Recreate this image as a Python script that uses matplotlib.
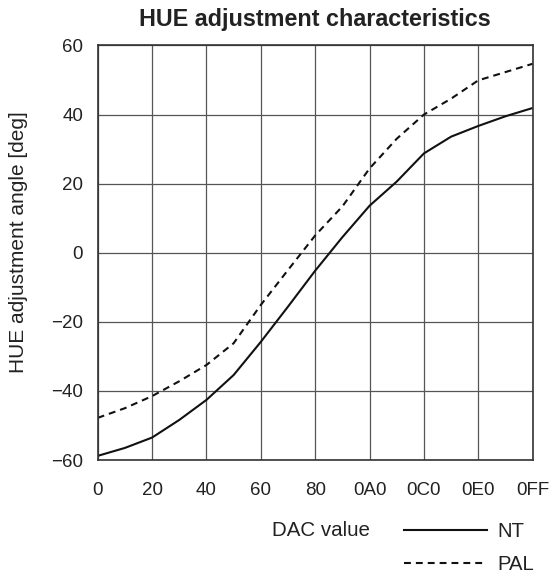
import matplotlib
matplotlib.use("Agg")
import matplotlib.pyplot as plt
from matplotlib.lines import Line2D

plt.rcParams['font.family'] = ['Liberation Sans', 'DejaVu Sans']

# DAC positions (0x00 .. 0xFF, last tick drawn at 0x100 grid position)
dac = [0, 16, 32, 48, 64, 80, 96, 112, 128, 144, 160, 176, 192, 208, 224, 240, 256]
nt = [-58.8, -56.5, -53.5, -48.4, -42.6, -35.4, -25.8, -15.6, -5.2, 4.5, 13.6, 20.6, 28.75, 33.6, 36.7, 39.5, 41.9]
pal = [-47.8, -45.0, -41.5, -37.2, -32.5, -26.2, -15.1, -5.0, 5.0, 13.4, 24.4, 33.0, 40.0, 44.6, 49.9, 52.3, 54.7]

xticks = [0, 32, 64, 96, 128, 160, 192, 224, 256]
xlabels = ["0", "20", "40", "60", "80", "0A0", "0C0", "0E0", "0FF"]
yticks = [-60, -40, -20, 0, 20, 40, 60]
ylabels = ["\u221260", "\u221240", "\u221220", "0", "20", "40", "60"]

txt = "#222222"
fig = plt.figure(figsize=(5.52, 5.79), dpi=100)
ax = fig.add_axes([0.177, 0.2055, 0.788, 0.716])

ax.plot(dac, nt, color="#111111", lw=1.5, solid_capstyle="butt", solid_joinstyle="round")
ax.plot(dac, pal, color="#111111", lw=1.5, linestyle=(0, (3.3, 2.4)))

ax.set_xlim(0, 256)
ax.set_ylim(-60, 60)
ax.set_xticks(xticks)
ax.set_xticklabels(xlabels)
ax.set_yticks(yticks)
ax.set_yticklabels(ylabels)
ax.tick_params(axis="both", length=0, labelsize=13.5, colors=txt)
ax.tick_params(axis="x", pad=16)
ax.tick_params(axis="y", pad=10.5)
ax.grid(True, color="#555555", lw=0.9)
for s in ax.spines.values():
    s.set_color("#333333")
    s.set_linewidth(1.2)

ax.set_title("HUE adjustment characteristics", fontsize=16.8, fontweight="bold", color=txt, pad=14)
fig.text(18.5 / 552, 1 - 242 / 579, "HUE adjustment angle [deg]", fontsize=15, color=txt,
         rotation=90, ha="center", va="center")

fig.text(321 / 552, 1 - 531 / 579, "DAC value", fontsize=14.8, color=txt, ha="center", va="center")

handles = [Line2D([], [], color="#111111", lw=1.5),
           Line2D([], [], color="#111111", lw=1.5, linestyle=(0, (3.3, 2.4)))]
fig.legend(handles, ["NT", "PAL"], loc="upper left", bbox_to_anchor=(404 / 552, 1 - 522 / 579),
           frameon=False, fontsize=14.6, handlelength=4.1, handletextpad=0.49,
           labelspacing=0.68, borderpad=0, borderaxespad=0, labelcolor=txt)

fig.savefig("out.png", dpi=100)
